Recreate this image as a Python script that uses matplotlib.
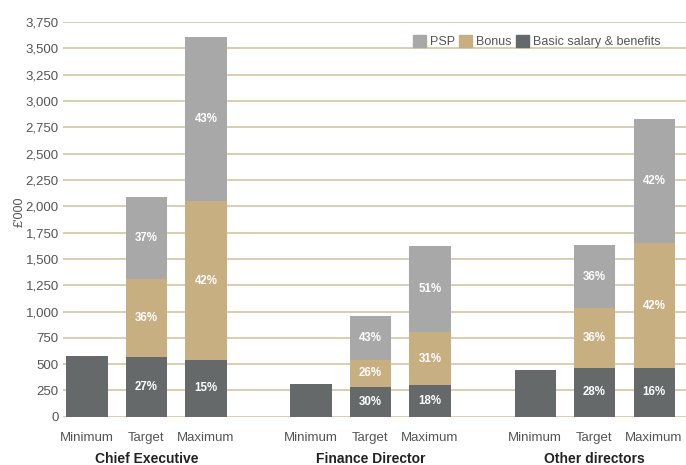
import matplotlib
matplotlib.use("Agg")
import matplotlib.pyplot as plt
from matplotlib.patches import Patch
from matplotlib import font_manager

groups = ["Chief Executive", "Finance Director", "Other directors"]
scenarios = ["Minimum", "Target", "Maximum"]

# values in £'000, per group: [Minimum, Target, Maximum]
basic = [[575, 567, 538], [310, 282, 301], [445, 463, 463]]
bonus = [[0, 741, 1512], [0, 260, 504], [0, 570, 1187]]
psp = [[0, 785, 1561], [0, 415, 821], [0, 599, 1179]]

basic_pct = [[None, "27%", "15%"], [None, "30%", "18%"], [None, "28%", "16%"]]
bonus_pct = [[None, "36%", "42%"], [None, "26%", "31%"], [None, "36%", "42%"]]
psp_pct = [[None, "37%", "43%"], [None, "43%", "51%"], [None, "36%", "42%"]]

yticks = list(range(0, 3751, 250))

c_basic = "#656969"
c_bonus = "#c8af81"
c_psp = "#a8a8a8"
c_grid = "#d6c6a2"
c_text = "#555555"

avail = {f.name for f in font_manager.fontManager.ttflist}
narrow = "Liberation Sans Narrow" if "Liberation Sans Narrow" in avail else "Liberation Sans"
plt.rcParams["font.family"] = [narrow, "DejaVu Sans"]

fig = plt.figure(figsize=(6.86, 4.65), dpi=100)
ax = fig.add_axes([63 / 686, 48.3 / 465, 1 - 63 / 686, (416.7 - 22.2) / 465])

group_gap = 3.765
width = 0.69
for g in range(3):
    for i in range(3):
        x = g * group_gap + i
        b, bo, p = basic[g][i], bonus[g][i], psp[g][i]
        ax.bar(x, b, width, color=c_basic, zorder=3)
        if bo:
            ax.bar(x, bo, width, bottom=b, color=c_bonus, zorder=3)
        if p:
            ax.bar(x, p, width, bottom=b + bo, color=c_psp, zorder=3)
        for val, bottom, lab in ((b, 0, basic_pct[g][i]), (bo, b, bonus_pct[g][i]), (p, b + bo, psp_pct[g][i])):
            if lab:
                ax.text(x, bottom + val / 2, lab, ha="center", va="center", color="white",
                        fontsize=8.3, fontweight="bold", zorder=4)
        ax.text(x, -0.053, scenarios[i], transform=ax.get_xaxis_transform(), ha="center", va="center",
                fontsize=9.5, color=c_text)
    ax.text(g * group_gap + 1, -0.108, groups[g], transform=ax.get_xaxis_transform(), ha="center",
            va="center", fontsize=10, fontweight="bold", color="#222222")

ax.set_xlim(-0.403, 10.067)
ax.set_ylim(0, 3750)
ax.set_yticks(yticks)
ax.set_yticklabels([f"{v:,}" for v in yticks], fontsize=9.5, color=c_text)
ax.tick_params(axis="y", length=0, pad=3)
ax.set_xticks([])
for s in ax.spines.values():
    s.set_visible(False)
for v in yticks:
    ax.axhline(v, color=c_grid, lw=1.2, zorder=1)

ax.set_ylabel("£'000", fontsize=9, color=c_text, labelpad=2)
ax.yaxis.set_label_coords(-0.06, 0.52)

handles = [Patch(color=c_psp), Patch(color=c_bonus), Patch(color=c_basic)]
ax.legend(handles, ["PSP", "Bonus", "Basic salary & benefits"], ncol=3, frameon=False,
          loc="upper right", bbox_to_anchor=(0.977, 0.995), fontsize=9, handlelength=1.05,
          handleheight=1.05, handletextpad=0.3, columnspacing=0.35, labelcolor=c_text)

fig.savefig("out.png", dpi=100)
